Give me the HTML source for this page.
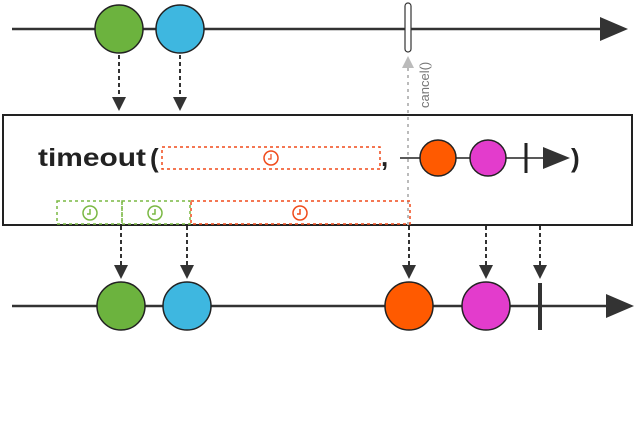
<!DOCTYPE html><html><head><style>body{margin:0;background:#fff}</style></head><body>
<svg width="640" height="441" viewBox="0 0 640 441" xmlns="http://www.w3.org/2000/svg" font-family="Liberation Sans, sans-serif">
<defs><marker id="ah" markerWidth="14" markerHeight="14" refX="7" refY="7" orient="auto" markerUnits="userSpaceOnUse"><path d="M0,0 L14,7 L0,14z" fill="#333"/></marker>
<marker id="ag" markerWidth="12" markerHeight="12" refX="6" refY="6" orient="auto" markerUnits="userSpaceOnUse"><path d="M0,0 L12,6 L0,12z" fill="#bbb"/></marker></defs>
<line x1="12" y1="29" x2="605" y2="29" stroke="#333" stroke-width="2.5"/>
<path d="M600,17 L628,29 L600,41z" fill="#333"/>
<circle cx="119" cy="29" r="24" fill="#6cb33e" stroke="#222" stroke-width="1.5"/>
<circle cx="180" cy="29" r="24" fill="#3eb7e0" stroke="#222" stroke-width="1.5"/>
<rect x="405" y="3" width="6" height="49" rx="3" fill="#fff" stroke="#333" stroke-width="1.2"/>
<g stroke="#333" stroke-width="2" stroke-dasharray="4,3">
<line x1="119" y1="55" x2="119" y2="104" marker-end="url(#ah)"/>
<line x1="180" y1="55" x2="180" y2="104" marker-end="url(#ah)"/>
</g>
<rect x="3" y="115" width="629" height="110" fill="#fff" stroke="#222" stroke-width="2"/>
<line x1="408" y1="225" x2="408" y2="62" stroke="#bbb" stroke-width="2" stroke-dasharray="3,4" marker-end="url(#ag)"/>
<text transform="translate(429,108) rotate(-90)" font-size="13" fill="#777">cancel()</text>
<text x="38" y="166" font-size="25" font-weight="bold" fill="#222" textLength="108" lengthAdjust="spacingAndGlyphs">timeout</text>
<text x="150" y="167" font-size="26" font-weight="bold" fill="#222">(</text>
<rect x="162" y="147" width="218" height="22" fill="none" stroke="#f04a1a" stroke-width="1.5" stroke-dasharray="3,3"/>
<circle cx="271" cy="158" r="7" fill="none" stroke="#f04a1a" stroke-width="1.5"/><path d="M271,154 L271,159 L268,159" stroke="#f04a1a" fill="none" stroke-width="1.2"/>
<text x="381" y="166" font-size="26" font-weight="bold" fill="#222">,</text>
<line x1="400" y1="158" x2="548" y2="158" stroke="#222" stroke-width="1.5"/>
<circle cx="438" cy="158" r="18" fill="#ff5a00" stroke="#222" stroke-width="1.5"/>
<circle cx="488" cy="158" r="18" fill="#e33ccc" stroke="#222" stroke-width="1.5"/>
<line x1="526" y1="143" x2="526" y2="173" stroke="#222" stroke-width="3"/>
<path d="M543,147 L570,158 L543,169z" fill="#333"/>
<text x="571" y="167" font-size="26" font-weight="bold" fill="#222">)</text>
<rect x="57" y="201" width="65" height="23" fill="none" stroke="#7ab843" stroke-width="1.5" stroke-dasharray="3,3"/>
<rect x="122" y="201" width="68" height="23" fill="none" stroke="#7ab843" stroke-width="1.5" stroke-dasharray="3,3"/>
<rect x="191" y="201" width="219" height="23" fill="none" stroke="#f04a1a" stroke-width="1.5" stroke-dasharray="3,3"/>
<g fill="none" stroke-width="1.5">
<circle cx="90" cy="213" r="7" stroke="#7ab843"/><path d="M90,209 L90,214 L87,214" stroke="#7ab843"/>
<circle cx="155" cy="213" r="7" stroke="#7ab843"/><path d="M155,209 L155,214 L152,214" stroke="#7ab843"/>
<circle cx="300" cy="213" r="7" stroke="#f04a1a"/><path d="M300,209 L300,214 L297,214" stroke="#f04a1a"/>
</g>
<g stroke="#333" stroke-width="2" stroke-dasharray="4,3">
<line x1="121" y1="226" x2="121" y2="272" marker-end="url(#ah)"/>
<line x1="187" y1="226" x2="187" y2="272" marker-end="url(#ah)"/>
<line x1="409" y1="226" x2="409" y2="272" marker-end="url(#ah)"/>
<line x1="486" y1="226" x2="486" y2="272" marker-end="url(#ah)"/>
<line x1="540" y1="226" x2="540" y2="272" marker-end="url(#ah)"/>
</g>
<line x1="12" y1="306" x2="610" y2="306" stroke="#333" stroke-width="2.5"/>
<path d="M606,294 L634,306 L606,318z" fill="#333"/>
<circle cx="121" cy="306" r="24" fill="#6cb33e" stroke="#222" stroke-width="1.5"/>
<circle cx="187" cy="306" r="24" fill="#3eb7e0" stroke="#222" stroke-width="1.5"/>
<circle cx="409" cy="306" r="24" fill="#ff5a00" stroke="#222" stroke-width="1.5"/>
<circle cx="486" cy="306" r="24" fill="#e33ccc" stroke="#222" stroke-width="1.5"/>
<line x1="540" y1="283" x2="540" y2="330" stroke="#333" stroke-width="4"/>
</svg>
</body></html>
